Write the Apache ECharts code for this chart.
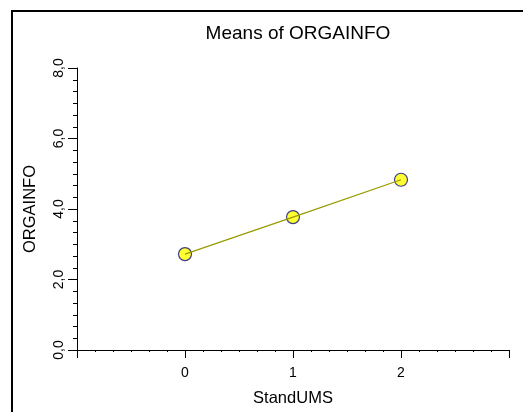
<!DOCTYPE html>
<html>
<head>
<meta charset="utf-8">
<script src="https://cdn.jsdelivr.net/npm/echarts@6/dist/echarts.min.js"></script>
<style>
html,body{margin:0;padding:0;background:#fff;overflow:hidden;}
#frame{position:absolute;left:11px;top:10px;width:600px;height:500px;border-left:2px solid #000;border-top:2px solid #000;}
#main{position:absolute;left:0;top:0;width:523px;height:412px;}
</style>
</head>
<body>
<div id="frame"></div>
<div id="main"></div>
<script>
var titleText = 'Means of ORGAINFO';
var xName = 'StandUMS';
var yName = 'ORGAINFO';
var categories = [0, 1, 2];
var means = [2.72, 3.77, 4.83];
var xTickLabels = ['0', '1', '2'];
var yTickLabels = ['0,0', '2,0', '4,0', '6,0', '8,0'];

var pts = categories.map(function (c, i) { return [c, means[i]]; });
var font = 'Liberation Sans, Arial, sans-serif';

var chart = echarts.init(document.getElementById('main'), null, {renderer: 'canvas'});
chart.setOption({
  animation: false,
  backgroundColor: 'transparent',
  title: {
    text: titleText,
    left: 293, top: 19, textAlign: 'center',
    textStyle: {fontFamily: font, fontSize: 19, fontWeight: 'normal', color: '#000'}
  },
  grid: {left: 77, right: 14, top: 68, bottom: 55},
  xAxis: {
    type: 'value', min: -1, max: 3, interval: 1,
    name: xName, nameLocation: 'middle', nameGap: 40,
    nameTextStyle: {fontFamily: font, fontSize: 16.5, color: '#000'},
    axisLine: {show: true, onZero: false, lineStyle: {color: '#000', width: 1}},
    axisTick: {show: true, inside: false, length: 8, lineStyle: {color: '#000'}},
    minorTick: {show: true, splitNumber: 6, length: 2, lineStyle: {color: '#000'}},
    splitLine: {show: false},
    axisLabel: {
      margin: 16, fontFamily: font, fontSize: 14, color: '#000',
      formatter: function (v) { var i = categories.indexOf(v); return i >= 0 ? xTickLabels[i] : ''; }
    }
  },
  yAxis: {
    type: 'value', min: 0, max: 8, interval: 2,
    name: yName, nameLocation: 'middle', nameGap: 38, nameRotate: 90,
    nameTextStyle: {fontFamily: font, fontSize: 16.5, color: '#000'},
    axisLine: {show: true, onZero: false, lineStyle: {color: '#000', width: 1}},
    axisTick: {show: true, inside: false, length: 9, lineStyle: {color: '#000'}},
    minorTick: {show: true, splitNumber: 6, length: 4, lineStyle: {color: '#000'}},
    splitLine: {show: false},
    axisLabel: {
      rotate: 90, margin: 11, fontFamily: font, fontSize: 14, color: '#000',
      formatter: function (v) { return yTickLabels[Math.round(v / 2)]; }
    }
  },
  series: [
    {
      type: 'scatter', data: pts, symbol: 'circle', symbolSize: 13, z: 2,
      itemStyle: {color: '#ffff00', borderColor: '#10107a', borderWidth: 1.2}
    },
    {
      type: 'line', data: pts, showSymbol: false, symbol: 'none', z: 3,
      lineStyle: {color: '#999900', width: 1.2}
    }
  ]
});
</script>
</body>
</html>
